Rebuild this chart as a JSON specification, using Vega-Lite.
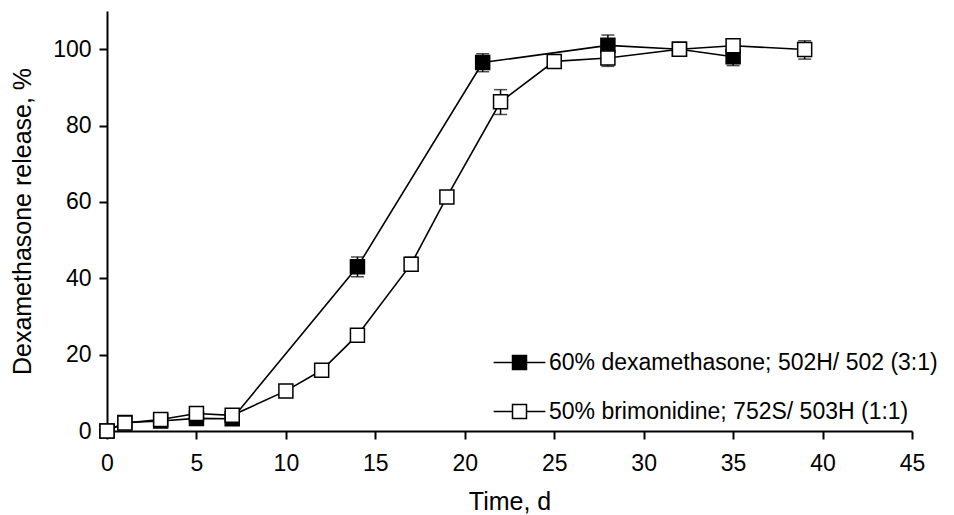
{
  "$schema": "https://vega.github.io/schema/vega-lite/v6.json",
  "width": 805,
  "height": 420,
  "autosize": "none",
  "padding": {"left": 107, "top": 11, "right": 42, "bottom": 84},
  "background": "white",
  "config": {
    "font": "Liberation Sans",
    "view": {"stroke": null},
    "axis": {
      "grid": false,
      "labelFlush": false,
      "domainColor": "black",
      "domainWidth": 2,
      "tickColor": "black",
      "tickWidth": 2,
      "tickSize": 8,
      "labelFont": "Liberation Sans",
      "labelFontSize": 23,
      "labelColor": "black",
      "titleFont": "Liberation Sans",
      "titleFontSize": 25,
      "titleFontWeight": "normal",
      "titleColor": "black"
    },
    "legend": {
      "labelFont": "Liberation Sans",
      "labelFontSize": 23,
      "labelColor": "black",
      "labelLimit": 600
    }
  },
  "data": {
    "values": [
      {"series": "60% dexamethasone; 502H/ 502 (3:1)", "t": 0, "v": 0},
      {"series": "60% dexamethasone; 502H/ 502 (3:1)", "t": 1, "v": 2.2},
      {"series": "60% dexamethasone; 502H/ 502 (3:1)", "t": 3, "v": 2.6},
      {"series": "60% dexamethasone; 502H/ 502 (3:1)", "t": 5, "v": 3.3},
      {"series": "60% dexamethasone; 502H/ 502 (3:1)", "t": 7, "v": 3.2},
      {"series": "60% dexamethasone; 502H/ 502 (3:1)", "t": 14, "v": 43.0, "lo": 40.4, "hi": 45.6},
      {"series": "60% dexamethasone; 502H/ 502 (3:1)", "t": 21, "v": 96.5, "lo": 94.1, "hi": 98.8},
      {"series": "60% dexamethasone; 502H/ 502 (3:1)", "t": 28, "v": 101.0, "lo": 98.3, "hi": 103.7},
      {"series": "60% dexamethasone; 502H/ 502 (3:1)", "t": 32, "v": 100.0, "lo": 98.5, "hi": 101.5},
      {"series": "60% dexamethasone; 502H/ 502 (3:1)", "t": 35, "v": 98.0, "lo": 95.7, "hi": 100.3},
      {"series": "50% brimonidine; 752S/ 503H (1:1)", "t": 0, "v": 0},
      {"series": "50% brimonidine; 752S/ 503H (1:1)", "t": 1, "v": 2.1},
      {"series": "50% brimonidine; 752S/ 503H (1:1)", "t": 3, "v": 3.0},
      {"series": "50% brimonidine; 752S/ 503H (1:1)", "t": 5, "v": 4.6},
      {"series": "50% brimonidine; 752S/ 503H (1:1)", "t": 7, "v": 4.1},
      {"series": "50% brimonidine; 752S/ 503H (1:1)", "t": 10, "v": 10.5},
      {"series": "50% brimonidine; 752S/ 503H (1:1)", "t": 12, "v": 15.9},
      {"series": "50% brimonidine; 752S/ 503H (1:1)", "t": 14, "v": 25.1, "lo": 24.0, "hi": 26.2},
      {"series": "50% brimonidine; 752S/ 503H (1:1)", "t": 17, "v": 43.7, "lo": 42.0, "hi": 45.5},
      {"series": "50% brimonidine; 752S/ 503H (1:1)", "t": 19, "v": 61.3},
      {"series": "50% brimonidine; 752S/ 503H (1:1)", "t": 22, "v": 86.2, "lo": 82.9, "hi": 89.4},
      {"series": "50% brimonidine; 752S/ 503H (1:1)", "t": 25, "v": 96.8},
      {"series": "50% brimonidine; 752S/ 503H (1:1)", "t": 28, "v": 97.7, "lo": 95.5, "hi": 100.0},
      {"series": "50% brimonidine; 752S/ 503H (1:1)", "t": 32, "v": 100.0, "lo": 98.5, "hi": 101.5},
      {"series": "50% brimonidine; 752S/ 503H (1:1)", "t": 35, "v": 100.9, "lo": 99.0, "hi": 102.5},
      {"series": "50% brimonidine; 752S/ 503H (1:1)", "t": 39, "v": 99.9, "lo": 97.4, "hi": 102.2}
    ]
  },
  "encoding": {
    "x": {
      "field": "t",
      "type": "quantitative",
      "scale": {"domain": [0, 45], "nice": false},
      "axis": {"values": [0, 5, 10, 15, 20, 25, 30, 35, 40, 45], "title": "Time, d", "labelPadding": 13, "titlePadding": 14}
    }
  },
  "layer": [
    {
      "mark": {"type": "line", "color": "black", "strokeWidth": 1.6},
      "encoding": {
        "y": {
          "field": "v",
          "type": "quantitative",
          "title": "Dexamethasone release, %",
          "scale": {"domain": [0, 110], "nice": false},
          "axis": {"values": [0, 20, 40, 60, 80, 100], "labelPadding": 8, "titlePadding": 17}
        },
        "detail": {"field": "series"}
      }
    },
    {
      "transform": [{"filter": "isValid(datum.lo)"}],
      "mark": {"type": "errorbar", "color": "black", "thickness": 1.5, "ticks": {"size": 13, "thickness": 1.5, "color": "black"}},
      "encoding": {
        "y": {"field": "lo", "type": "quantitative", "title": "Dexamethasone release, %"},
        "y2": {"field": "hi"},
        "detail": {"field": "series"}
      }
    },
    {
      "mark": {"type": "point", "shape": "square", "size": 196, "filled": true, "stroke": "black", "strokeWidth": 1.5, "opacity": 1},
      "encoding": {
        "y": {"field": "v", "type": "quantitative", "title": "Dexamethasone release, %"},
        "fill": {
          "field": "series",
          "type": "nominal",
          "scale": {
            "domain": ["60% dexamethasone; 502H/ 502 (3:1)", "50% brimonidine; 752S/ 503H (1:1)"],
            "range": ["black", "white"]
          },
          "legend": {
            "title": null,
            "orient": "none",
            "legendX": 401,
            "legendY": 340,
            "padding": 0,
            "symbolType": "M-3.7,0H-1M1,0H3.7M-1,-1H1V1H-1Z",
            "symbolSize": 196,
            "symbolStrokeColor": "black",
            "symbolStrokeWidth": 1.5,
            "symbolOpacity": 1,
            "labelOffset": 18,
            "rowPadding": 25,
            "encode": {"symbols": {"update": {"stroke": {"value": "black"}, "strokeWidth": {"value": 1.5}}}}
          }
        }
      }
    }
  ]
}
